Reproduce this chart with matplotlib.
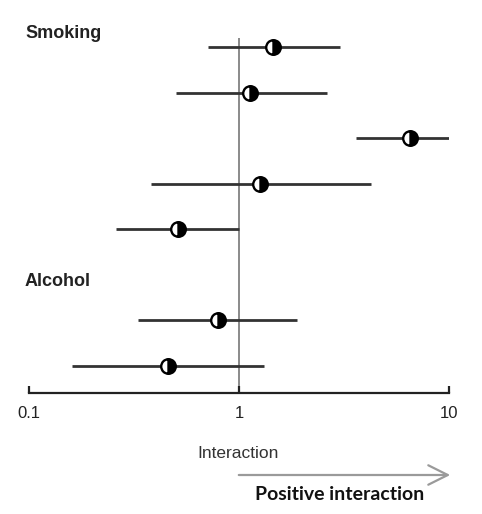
import matplotlib
matplotlib.use("Agg")
import matplotlib.pyplot as plt
import numpy as np

plt.rcParams["font.family"] = ["Liberation Sans", "DejaVu Sans"]

# Interaction estimates with 95% confidence intervals (log scale)
rows = [0, 1, 2, 3, 4, 6, 7]          # row 5 is the "Alcohol" header
estimate = [1.45, 1.13, 6.5, 1.26, 0.51, 0.79, 0.46]
ci_low = [0.71, 0.50, 3.6, 0.38, 0.26, 0.33, 0.16]
ci_high = [3.03, 2.62, 10.0, 4.25, 1.0, 1.89, 1.32]
group_labels = ["Smoking", "Alcohol"]
tick_values = [0.1, 1, 10]
tick_labels = ["0.1", "1", "10"]

W, H = 482, 514
fig = plt.figure(figsize=(W / 100, H / 100), dpi=100)
fig.patch.set_facecolor("white")

ax_left, ax_right = 29, 449
ax_top, ax_bottom = 20, 393
ax = fig.add_axes([ax_left / W, 1 - ax_bottom / H,
                   (ax_right - ax_left) / W, (ax_bottom - ax_top) / H])
ax.set_xscale("log")
ax.set_xlim(0.1, 10)
row_gap = 45.57
ax.set_ylim((ax_bottom - 47) / row_gap, (ax_top - 47) / row_gap)

for s in ["top", "right", "left"]:
    ax.spines[s].set_visible(False)
ax.spines["bottom"].set_linewidth(1.6)
ax.spines["bottom"].set_color("#222222")
ax.set_yticks([])
ax.set_xticks(tick_values)
ax.set_xticklabels(tick_labels, fontsize=12, color="#222222")
ax.xaxis.set_minor_locator(matplotlib.ticker.NullLocator())
ax.tick_params(axis="x", direction="in", length=5, width=1.6, color="#222222", pad=9)

# reference line at no interaction
ax.vlines(1, -0.2, (ax_bottom - 47) / row_gap, color="#8a8a8a", lw=1.4, zorder=1)

# confidence intervals and point estimates
ax.hlines(rows, ci_low, ci_high, color="#333333", lw=2.0, zorder=2)
ax.plot(estimate, rows, linestyle="none", marker="o", markersize=10.5,
        fillstyle="right", markerfacecolor="black", markerfacecoloralt="white",
        markeredgecolor="black", markeredgewidth=1.7, zorder=3)

# group headers
fig.text(25 / W, 1 - 34 / H, group_labels[0], fontsize=13, fontweight="bold",
         color="#222222", va="center", ha="left")
fig.text(25 / W, 1 - 281 / H, group_labels[1], fontsize=13, fontweight="bold",
         color="#222222", va="center", ha="left")

# axis title and direction arrow
fig.text(238 / W, 1 - 454 / H, "Interaction", fontsize=12.5,
         color="#333333", ha="center", va="center")
fig.patches.append(matplotlib.patches.FancyArrowPatch(
    (236 / W, 1 - 475 / H), (453 / W, 1 - 475 / H), transform=fig.transFigure,
    arrowstyle="->,head_length=1.4,head_width=0.7", color="#9a9a9a",
    lw=1.6, mutation_scale=10))
fig.text(340 / W, 1 - 494 / H, "Positive interaction", fontsize=14,
         fontweight="bold", family=["Lato", "DejaVu Sans"], color="#111111",
         ha="center", va="center")

fig.savefig("out.png", dpi=100, facecolor="white")
